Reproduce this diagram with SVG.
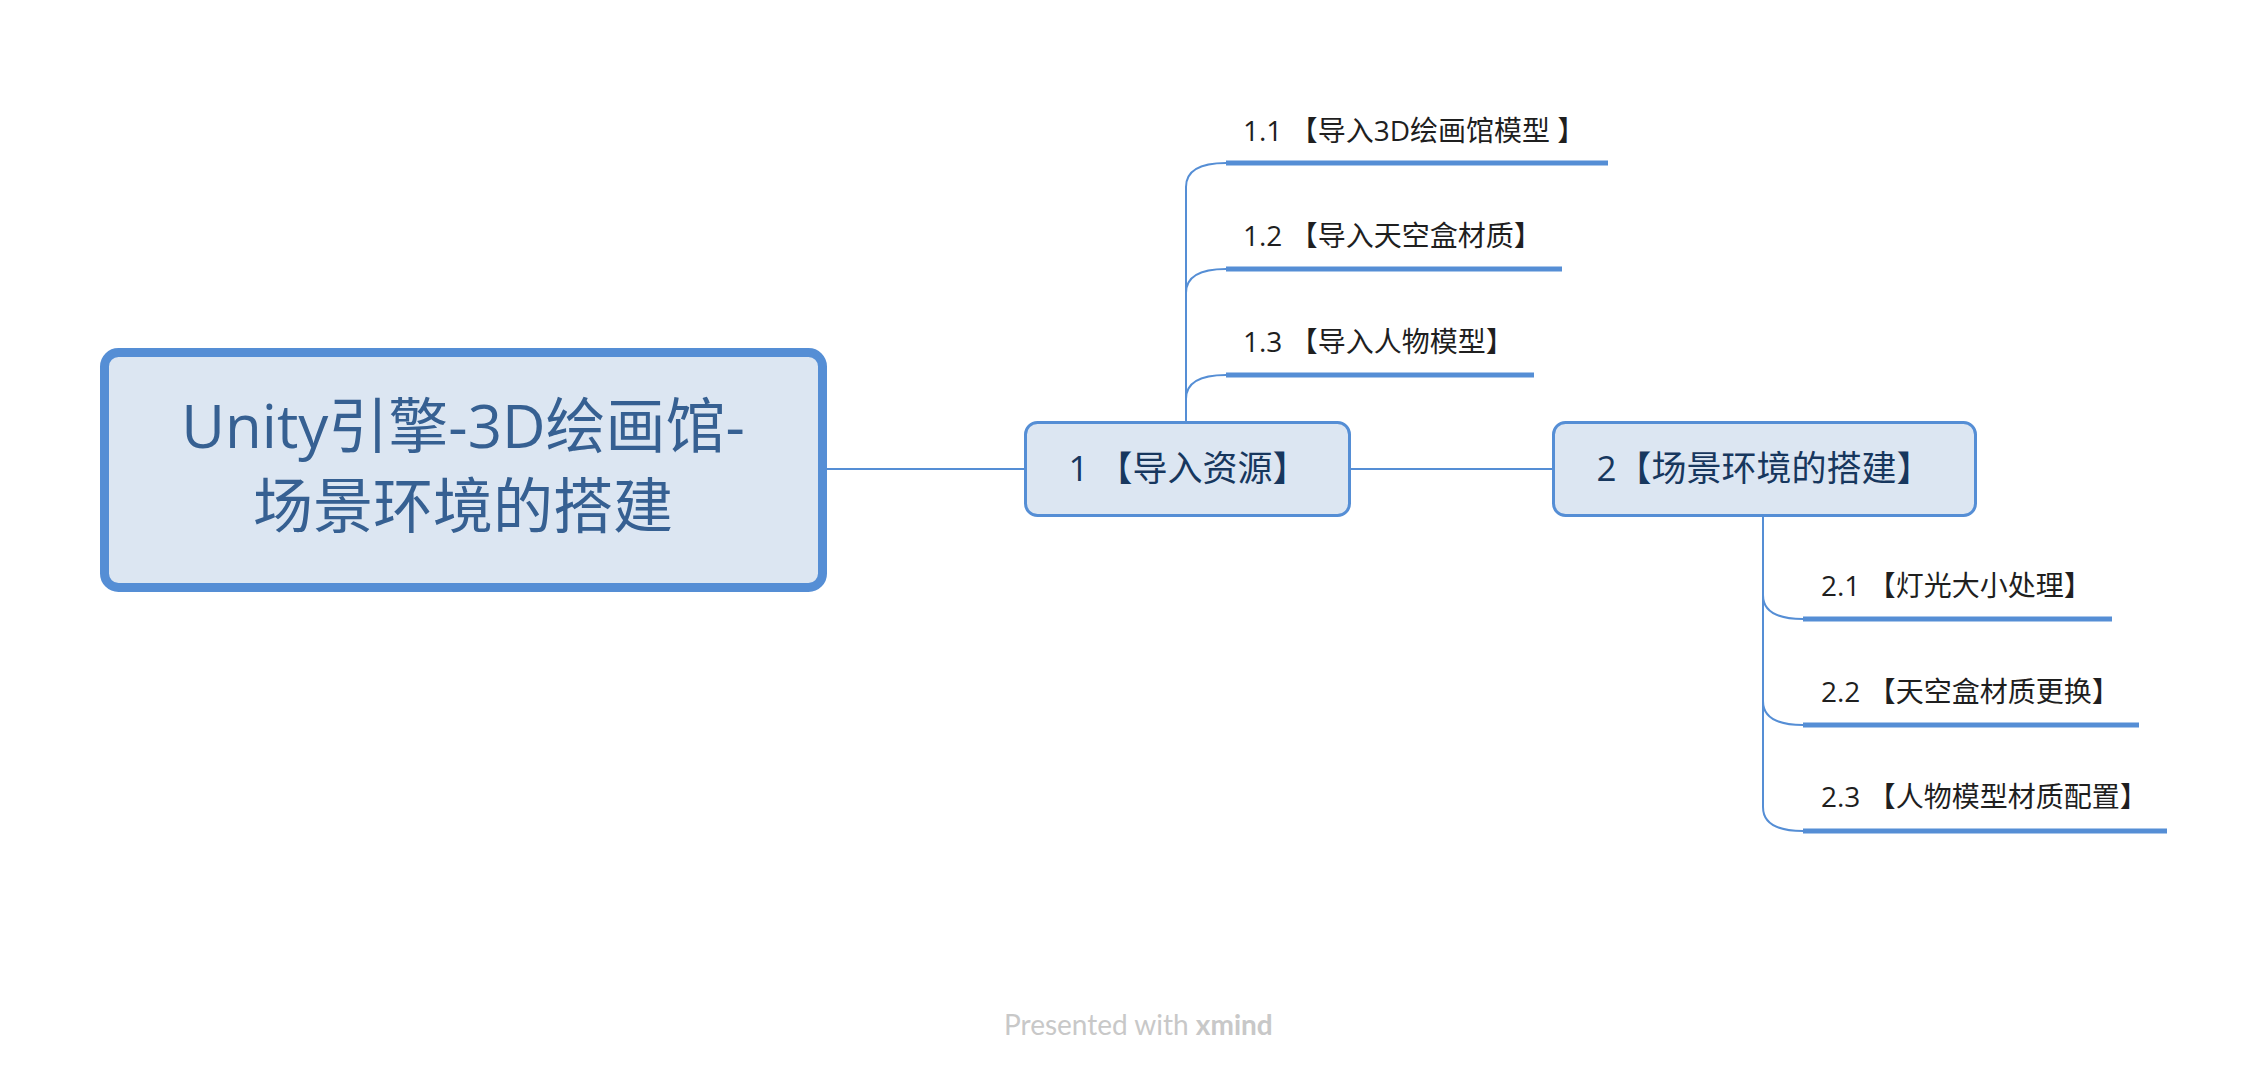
<svg xmlns="http://www.w3.org/2000/svg" width="2268" height="1074" viewBox="0 0 2268 1074">
<style>
.box{fill:#dce6f2;stroke:#558ed5}
.conn{fill:none;stroke:#558ed5;stroke-width:2}
.ul{stroke:#558ed5;stroke-width:5}
.title{font-family:"Open Sans","Noto Sans CJK SC",sans-serif;font-size:60px;fill:#366092;text-anchor:middle}
.main{font-family:"Open Sans","Noto Sans CJK SC",sans-serif;font-size:35px;fill:#17375e;text-anchor:middle}
.sub{font-family:"Open Sans","Noto Sans CJK SC",sans-serif;font-size:28px;fill:#1f1f1f}
.foot{font-family:Lato,"Open Sans",sans-serif;font-size:28px;fill:#c8c8c8}
</style>
<rect width="2268" height="1074" fill="#ffffff"/>
<g id="connectors">
<path class="conn" d="M827,469 L1024,469"/>
<path class="conn" d="M1351,469 L1552,469"/>
<path class="conn" d="M1186,421 L1186,187 Q1186,163 1226,163"/>
<path class="conn" d="M1186,421 L1186,293 Q1186,269 1226,269"/>
<path class="conn" d="M1186,421 L1186,399 Q1186,375 1226,375"/>
<path class="conn" d="M1763,517 L1763,595 Q1763,619 1803,619"/>
<path class="conn" d="M1763,517 L1763,701 Q1763,725 1803,725"/>
<path class="conn" d="M1763,517 L1763,807 Q1763,831 1803,831"/>
</g>
<g id="root">
<rect class="box" x="104.5" y="352.5" width="718" height="235" rx="14" stroke-width="9"/>
<text class="title" x="463" y="448">Unity引擎-3D绘画馆-</text>
<text class="title" x="463" y="528">场景环境的搭建</text>
</g>
<g id="n1">
<rect class="box" x="1025.5" y="422.5" width="324" height="93" rx="12" stroke-width="3"/>
<text class="main" x="1188" y="481">1 【导入资源】</text>
</g>
<g id="n2">
<rect class="box" x="1553.5" y="422.5" width="422" height="93" rx="12" stroke-width="3"/>
<text class="main" x="1764" y="481">2【场景环境的搭建】</text>
</g>
<g id="n11">
<line class="ul" x1="1226" y1="163" x2="1608" y2="163"/>
<text class="sub" x="1243" y="141">1.1 【导入3D绘画馆模型 】</text>
</g>
<g id="n12">
<line class="ul" x1="1226" y1="269" x2="1562" y2="269"/>
<text class="sub" x="1243" y="246">1.2 【导入天空盒材质】</text>
</g>
<g id="n13">
<line class="ul" x1="1226" y1="375" x2="1534" y2="375"/>
<text class="sub" x="1243" y="352">1.3 【导入人物模型】</text>
</g>
<g id="n21">
<line class="ul" x1="1803" y1="619" x2="2112" y2="619"/>
<text class="sub" x="1821" y="596">2.1 【灯光大小处理】</text>
</g>
<g id="n22">
<line class="ul" x1="1803" y1="725" x2="2139" y2="725"/>
<text class="sub" x="1821" y="702">2.2 【天空盒材质更换】</text>
</g>
<g id="n23">
<line class="ul" x1="1803" y1="831" x2="2167" y2="831"/>
<text class="sub" x="1821" y="807">2.3 【人物模型材质配置】</text>
</g>
<text class="foot" x="1004" y="1035">Presented with <tspan font-weight="bold">xmind</tspan></text>
</svg>
